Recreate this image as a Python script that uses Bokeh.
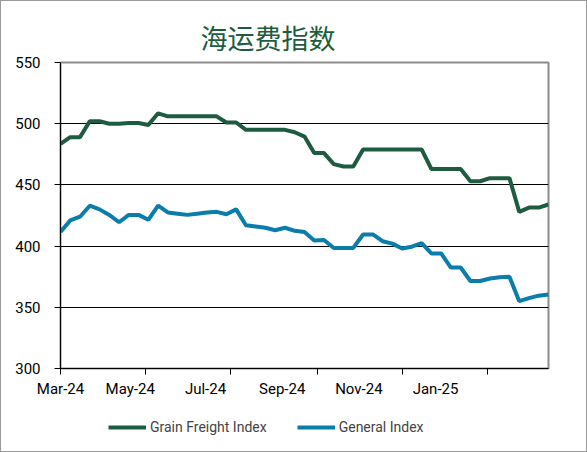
import pandas as pd
from bokeh.plotting import figure
from bokeh.layouts import column
from bokeh.models import Legend, LegendItem, FixedTicker, Range1d
from bokeh.embed import file_html
from bokeh.resources import INLINE

# weekly readings, Mar-24 .. mid Feb-25
dates = pd.date_range("2024-03-01", periods=51, freq="7D")

grain = [483.5, 489, 489, 502, 502, 500, 500, 500.5, 500.5, 499,
         508.5, 506, 506, 506, 506, 506, 506, 501, 501, 495,
         495, 495, 495, 495, 493, 489.5, 476, 476, 467, 465,
         465, 479, 479, 479, 479, 479, 479, 479, 463, 463,
         463, 463, 453, 453, 455.5, 455.5, 455.5, 428, 431.5, 431.5,
         434]
general = [411.5, 421, 424, 433, 430, 425.5, 419.5, 425.5, 425.5, 421.5,
           433, 427.5, 426.5, 425.5, 426.5, 427.5, 428, 426, 430, 417,
           416, 415, 413, 415, 412.5, 411.5, 404.5, 405, 398.5, 398.5,
           398.5, 409.5, 409.5, 404, 402, 398, 399.5, 402.5, 394, 394,
           382.5, 382.5, 371.5, 371.5, 373.5, 374.5, 375, 355, 357.5, 359.5,
           360.5]

tick_labels = ["Mar-24", "May-24", "Jul-24", "Sep-24", "Nov-24", "Jan-25"]
# where the labels sit on the original chart (they drift left of the month marks)
label_at = ["2024-03-01", "2024-04-20", "2024-06-13", "2024-08-07", "2024-10-01", "2024-11-25"]
month_marks = ["2024-03-01", "2024-05-01", "2024-07-01", "2024-09-01", "2024-11-01", "2025-01-01"]
y_ticks = [300, 350, 400, 450, 500, 550]
series_names = ["Grain Freight Index", "General Index"]

GREEN = "#1e5c40"
BLUE = "#0a7daa"
FONT = "Roboto"

def ms(d):
    return pd.Timestamp(d).value / 1e6

p = figure(width=585, height=405, x_axis_type="datetime",
           output_backend="svg", toolbar_location=None,
           x_range=Range1d(ms(dates[0]), ms(dates[-1])),
           y_range=Range1d(300, 550),
           min_border_left=59, min_border_right=38,
           min_border_top=61, min_border_bottom=38,
           title="海运费指数")

p.title.text_font = "Noto Sans CJK SC"
p.title.text_font_size = "27px"
p.title.text_font_style = "normal"
p.title.text_color = GREEN
p.title.align = "left"
p.title.offset = 140
p.title.standoff = 12

p.outline_line_color = "#8c8c8c"
p.outline_line_width = 2

p.xgrid.grid_line_color = None
p.ygrid.grid_line_color = "black"
p.ygrid.grid_line_width = 1

xt = FixedTicker(ticks=[ms(d) for d in label_at], minor_ticks=[ms(d) for d in month_marks])
p.xaxis.ticker = xt
p.xaxis.major_label_overrides = {ms(d): t for d, t in zip(label_at, tick_labels)}
p.xaxis.major_tick_out = 0
p.xaxis.major_tick_in = 0
p.xaxis.minor_tick_out = 6
p.xaxis.minor_tick_in = 0
p.xaxis.minor_tick_line_color = "black"
p.xaxis.major_label_standoff = 5

p.yaxis.ticker = FixedTicker(ticks=y_ticks)
p.yaxis.minor_tick_line_color = None
p.yaxis.major_tick_out = 6
p.yaxis.major_tick_in = 0
p.yaxis.major_label_standoff = 14

for ax in (p.xaxis, p.yaxis):
    ax.axis_line_color = "black"
    ax.major_tick_line_color = "black"
    ax.major_label_text_font = FONT
    ax.major_label_text_font_size = "15px"
    ax.major_label_text_color = "black"

p.line(dates, grain, line_color=GREEN, line_width=4)
p.line(dates, general, line_color=BLUE, line_width=4)

# legend strip under the chart (the same series, drawn out of view)
lf = figure(width=585, height=45, output_backend="svg", toolbar_location=None,
            x_range=Range1d(0, 1), y_range=Range1d(0, 1),
            min_border=0, outline_line_color=None)
lf.axis.visible = False
lf.grid.visible = False
g1 = lf.line(dates, grain, line_color=GREEN, line_width=4)
g2 = lf.line(dates, general, line_color=BLUE, line_width=4)

legend = Legend(items=[LegendItem(label=series_names[0], renderers=[g1]),
                       LegendItem(label=series_names[1], renderers=[g2])],
                orientation="horizontal", location=(48, 14),
                border_line_color=None, background_fill_alpha=0,
                padding=0, margin=0, spacing=30, glyph_width=38,
                label_standoff=4, label_text_font=FONT,
                label_text_font_size="14px")
lf.add_layout(legend, "center")

page = column(p, lf, spacing=0, styles={"border": "1px solid #9a9a9a"})

open("out.html", "w").write(file_html(page, INLINE))
